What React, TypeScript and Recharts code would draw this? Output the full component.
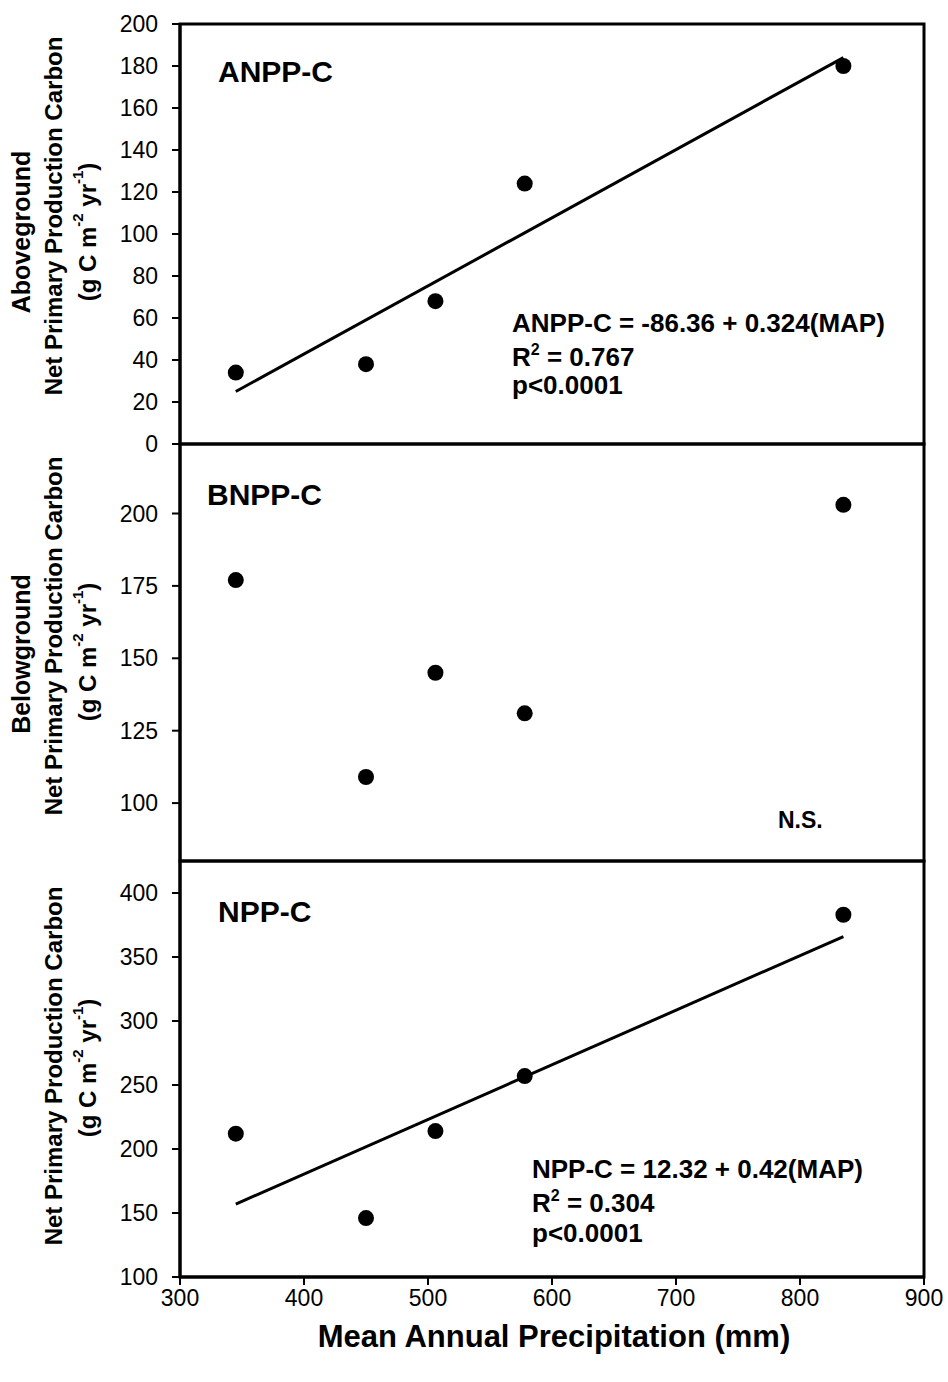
import React from "react"
import { ComposedChart, Scatter, Line, XAxis, YAxis, ReferenceArea } from "recharts"

// mean annual precipitation (mm) of the five sites
const precip = [345, 450, 506, 578, 835]
const anppC = [34, 38, 68, 124, 180]
const bnppC = [177, 109, 145, 131, 203]
const nppC = [212, 146, 214, 257, 383]

// regression line ends
const fitEnds = [345, 835]
const anppFit = [25, 184]
const nppFit = [157, 366]

const xTicks = [300, 400, 500, 600, 700, 800, 900]
const anppTicks = [0, 20, 40, 60, 80, 100, 120, 140, 160, 180, 200]
const bnppTicks = [100, 125, 150, 175, 200]
const nppTicks = [100, 150, 200, 250, 300, 350, 400]

const W = 948
const H = 1382
const FONT = "'Liberation Sans', Arial, sans-serif"
const Y_AXIS_W = 60

const toPoints = (ys: number[]) => precip.map((x, i) => ({ x, y: ys[i] }))
const toFit = (ys: number[]) => fitEnds.map((x, i) => ({ x, y: ys[i] }))

const Dot = (props: any) => {
  if (props.cx == null || props.cy == null) return null
  return <circle cx={props.cx} cy={props.cy} r={8} fill="#000" />
}

function UnitsText({ x, y }: { x: number; y: number }) {
  return (
    <text
      x={x}
      y={y}
      transform={`rotate(-90, ${x}, ${y})`}
      textAnchor="middle"
      dominantBaseline="central"
      fontFamily={FONT}
      fontWeight="bold"
      fontSize={24}
      fill="#000"
    >
      (g C m
      <tspan fontSize={15} dy={-10}>-2</tspan>
      <tspan dy={10}> yr</tspan>
      <tspan fontSize={15} dy={-10}>-1</tspan>
      <tspan dy={10}>)</tspan>
    </text>
  )
}

function TitleLine({ x, y, text, size = 24 }: { x: number; y: number; text: string; size?: number }) {
  return (
    <text
      x={x}
      y={y}
      transform={`rotate(-90, ${x}, ${y})`}
      textAnchor="middle"
      dominantBaseline="central"
      fontFamily={FONT}
      fontWeight="bold"
      fontSize={size}
      fill="#000"
    >
      {text}
    </text>
  )
}

function StatLines({ x, ys, eq, r2, p }: { x: number; ys: number[]; eq: string; r2: string; p: string }) {
  const common = { fontFamily: FONT, fontWeight: "bold" as const, fontSize: 26, fill: "#000" }
  return (
    <g>
      <text x={x} y={ys[0]} {...common}>{eq}</text>
      <text x={x} y={ys[1]} {...common}>
        R<tspan fontSize={16} dy={-11}>2</tspan>
        <tspan dy={11}>{" = " + r2}</tspan>
      </text>
      <text x={x} y={ys[2]} {...common}>{p}</text>
    </g>
  )
}

type PanelProps = {
  top: number
  bottom: number
  values: number[]
  fit?: number[]
  yDomain: [number, number]
  yTicks: number[]
  showX?: boolean
  children?: React.ReactNode
}

function Panel({ top, bottom, values, fit, yDomain, yTicks, showX, children }: PanelProps) {
  const xAxisH = showX ? 105 : 0
  const margin = { top, right: W - 924, bottom: H - bottom - xAxisH, left: 180 - Y_AXIS_W }
  const tickStyle = { fill: "#000", fontSize: 23, fontFamily: FONT }
  return (
    <div style={{ position: "absolute", left: 0, top: 0 }}>
      <ComposedChart width={W} height={H} margin={margin}>
        <XAxis
          dataKey="x"
          type="number"
          domain={[300, 900]}
          ticks={xTicks}
          hide={!showX}
          height={xAxisH}
          tick={tickStyle}
          tickLine={{ stroke: "#000", strokeWidth: 2 }}
          tickSize={8}
          tickMargin={5}
          axisLine={{ stroke: "#000", strokeWidth: 3 }}
          label={
            showX
              ? {
                  content: () => (
                    <text x={554} y={1347} textAnchor="middle" fontFamily={FONT} fontWeight="bold" fontSize={31} fill="#000">
                      Mean Annual Precipitation (mm)
                    </text>
                  ),
                }
              : undefined
          }
        />
        <YAxis
          type="number"
          domain={yDomain}
          ticks={yTicks}
          width={Y_AXIS_W}
          interval={0}
          tick={tickStyle}
          tickLine={{ stroke: "#000", strokeWidth: 2 }}
          tickSize={8}
          tickMargin={14}
          axisLine={{ stroke: "#000", strokeWidth: 3 }}
          allowDataOverflow
        />
        {/* frame round the panel */}
        <ReferenceArea
          x1={300}
          x2={900}
          y1={yDomain[0]}
          y2={yDomain[1]}
          fill="none"
          stroke="#000"
          strokeWidth={3}
          ifOverflow="visible"
        />
        {fit && (
          <Line
            data={toFit(fit)}
            dataKey="y"
            type="linear"
            stroke="#000"
            strokeWidth={3}
            dot={false}
            activeDot={false}
            isAnimationActive={false}
          />
        )}
        <Scatter data={toPoints(values)} dataKey="y" shape={<Dot />} isAnimationActive={false} />
        {children}
      </ComposedChart>
    </div>
  )
}

const labelStyle = { fontFamily: FONT, fontWeight: "bold" as const, fontSize: 30, fill: "#000" }

export default function App() {
  return (
    <div style={{ position: "absolute", left: 0, top: 0, width: W, height: H, background: "#fff" }}>
      <Panel top={24} bottom={444} values={anppC} fit={anppFit} yDomain={[0, 200]} yTicks={anppTicks}>
        <text x={218} y={82} {...labelStyle}>ANPP-C</text>
        <StatLines x={512} ys={[332, 366, 394]} eq="ANPP-C = -86.36 + 0.324(MAP)" r2="0.767" p="p<0.0001" />
        <TitleLine x={21} y={232} text="Aboveground" size={25} />
        <TitleLine x={53} y={216} text="Net Primary Production Carbon" />
        <UnitsText x={87} y={232} />
      </Panel>
      <Panel top={444} bottom={861} values={bnppC} yDomain={[80, 224]} yTicks={bnppTicks}>
        <text x={207} y={505} {...labelStyle}>BNPP-C</text>
        <text x={778} y={828} fontFamily={FONT} fontWeight="bold" fontSize={23} fill="#000">N.S.</text>
        <TitleLine x={21} y={654} text="Belowground" size={25} />
        <TitleLine x={53} y={636} text="Net Primary Production Carbon" />
        <UnitsText x={87} y={652} />
      </Panel>
      <Panel top={861} bottom={1277} values={nppC} fit={nppFit} yDomain={[100, 425]} yTicks={nppTicks} showX>
        <text x={218} y={922} {...labelStyle}>NPP-C</text>
        <StatLines x={532} ys={[1178, 1212, 1242]} eq="NPP-C = 12.32 + 0.42(MAP)" r2="0.304" p="p<0.0001" />
        <TitleLine x={53} y={1066} text="Net Primary Production Carbon" />
        <UnitsText x={87} y={1068} />
      </Panel>
    </div>
  )
}
